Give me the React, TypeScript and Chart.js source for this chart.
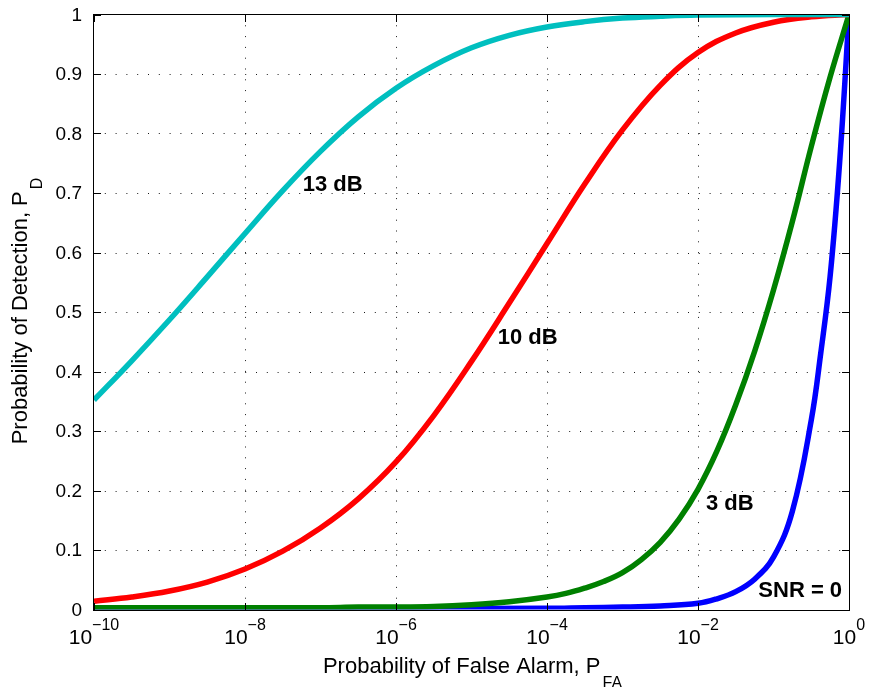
import React, { useEffect, useRef } from "react";
import { Chart, registerables } from "chart.js";

Chart.register(...registerables);

// ---- Data (x given as log10 of P_FA) ----
const snr13LogPfa = [-10, -9.5, -9, -8.5, -8, -7.5, -7, -6.5, -6, -5.5, -5, -4.5, -4, -3.5, -3, -2.5, -2, -1, 0];
const snr13Pd = [0.352, 0.418, 0.487, 0.559, 0.632, 0.704, 0.77, 0.828, 0.876, 0.914, 0.944, 0.965, 0.979, 0.988, 0.994, 0.997, 0.999, 1.0, 1.0];

const snr10LogPfa = [-10, -9.5, -9, -8.5, -8, -7.5, -7, -6.5, -6, -5.5, -5, -4.5, -4, -3.5, -3, -2.5, -2, -1.5, -1, -0.5, 0];
const snr10Pd = [0.014, 0.021, 0.031, 0.046, 0.068, 0.098, 0.137, 0.186, 0.248, 0.326, 0.417, 0.515, 0.615, 0.715, 0.806, 0.881, 0.936, 0.969, 0.987, 0.996, 1.0];

const snr3LogPfa = [-10, -9, -8, -7, -6.5, -6, -5.5, -5, -4.5, -4, -3.75, -3.5, -3.25, -3, -2.75, -2.5, -2.25, -2, -1.75, -1.5, -1.25, -1, -0.75, -0.5, -0.25, 0];
const snr3Pd = [0.003, 0.003, 0.003, 0.003, 0.004, 0.004, 0.005, 0.008, 0.013, 0.021, 0.027, 0.036, 0.047, 0.062, 0.084, 0.113, 0.152, 0.202, 0.266, 0.344, 0.434, 0.537, 0.652, 0.778, 0.895, 1.0];

const snr0LogPfa = [-10, -8, -6, -4, -3.5, -3, -2.5, -2, -1.75, -1.5, -1.25, -1, -0.75, -0.5, -0.375, -0.25, -0.125, 0];
const snr0Pd = [0.002, 0.002, 0.002, 0.002, 0.003, 0.004, 0.006, 0.0104, 0.018, 0.03, 0.051, 0.088, 0.165, 0.318, 0.43, 0.56, 0.75, 1.0];

const xTickExponents = [-10, -8, -6, -4, -2, 0];
const yTickValues = [0, 0.1, 0.2, 0.3, 0.4, 0.5, 0.6, 0.7, 0.8, 0.9, 1];
const yTickLabels = ["0", "0.1", "0.2", "0.3", "0.4", "0.5", "0.6", "0.7", "0.8", "0.9", "1"];

const curveLabels = ["13 dB", "10 dB", "3 dB", "SNR = 0"];
const curveLabelLogX = [-7.236, -4.653, -1.894, -1.201];
const curveLabelY = [0.704, 0.446, 0.168, 0.0215];

const xTitleMain = "Probability of False Alarm, P";
const xTitleSub = "FA";
const yTitleMain = "Probability of Detection, P";
const yTitleSub = "D";

const FONT = '"Liberation Sans", Arial, Helvetica, sans-serif';

const toPoints = (lx: number[], ys: number[]) => lx.map((e, i) => ({ x: Math.pow(10, e), y: ys[i] }));

const matlabAxes = {
  id: "matlabAxes",
  beforeDatasetsDraw(chart: any) {
    const { ctx, chartArea: a, scales } = chart;
    const x = scales.x;
    const y = scales.y;
    ctx.save();
    ctx.strokeStyle = "#1a1a1a";
    ctx.lineWidth = 1;
    ctx.setLineDash([1, 9.8]);
    xTickExponents.forEach((e) => {
      const px = Math.round(x.getPixelForValue(Math.pow(10, e))) + 0.5;
      if (px <= a.left + 2 || px >= a.right - 2) return;
      ctx.beginPath();
      ctx.moveTo(px, a.bottom);
      ctx.lineTo(px, a.top);
      ctx.stroke();
    });
    yTickValues.forEach((v) => {
      const py = Math.round(y.getPixelForValue(v)) + 0.5;
      if (py <= a.top + 2 || py >= a.bottom - 2) return;
      ctx.beginPath();
      ctx.moveTo(a.left, py);
      ctx.lineTo(a.right, py);
      ctx.stroke();
    });
    ctx.restore();
  },
  afterDatasetsDraw(chart: any) {
    const { ctx, chartArea: a, scales } = chart;
    const x = scales.x;
    const y = scales.y;
    ctx.save();
    ctx.setLineDash([]);
    ctx.strokeStyle = "#000";
    ctx.lineWidth = 1;
    const L = Math.round(a.left) - 0.5;
    const R = Math.round(a.right) + 0.5;
    const T = Math.round(a.top) - 0.5;
    const B = Math.round(a.bottom) + 0.5;
    ctx.strokeRect(L, T, R - L, B - T);
    const tl = 7.5;
    ctx.beginPath();
    xTickExponents.forEach((e) => {
      const px = Math.round(x.getPixelForValue(Math.pow(10, e))) + 0.5;
      ctx.moveTo(px, B);
      ctx.lineTo(px, B - tl);
      ctx.moveTo(px, T);
      ctx.lineTo(px, T + tl);
    });
    yTickValues.forEach((v) => {
      const py = Math.round(y.getPixelForValue(v)) + 0.5;
      ctx.moveTo(L, py);
      ctx.lineTo(L + tl, py);
      ctx.moveTo(R, py);
      ctx.lineTo(R - tl, py);
    });
    ctx.stroke();

    ctx.fillStyle = "#000";
    // y tick labels
    ctx.font = `19px ${FONT}`;
    ctx.textAlign = "right";
    ctx.textBaseline = "middle";
    yTickValues.forEach((v, i) => {
      ctx.fillText(yTickLabels[i], a.left - 12, y.getPixelForValue(v) + 1);
    });

    // x tick labels 10^e
    ctx.textAlign = "left";
    ctx.textBaseline = "alphabetic";
    xTickExponents.forEach((e) => {
      const px = x.getPixelForValue(Math.pow(10, e));
      const base = "10";
      const exp = e < 0 ? "\u2212" + String(-e) : String(e);
      ctx.font = `21px ${FONT}`;
      const wb = ctx.measureText(base).width;
      ctx.font = `16px ${FONT}`;
      const we = ctx.measureText(exp).width;
      const start = px - (wb + we) / 2;
      ctx.font = `21px ${FONT}`;
      ctx.fillText(base, start, a.bottom + 34.5);
      ctx.font = `16px ${FONT}`;
      ctx.fillText(exp, start + wb, a.bottom + 20.5);
    });

    // x title
    ctx.font = `22px ${FONT}`;
    const wxm = ctx.measureText(xTitleMain).width;
    ctx.font = `16px ${FONT}`;
    const wxs = ctx.measureText(xTitleSub).width;
    const cx = (a.left + a.right) / 2;
    const xs = cx - (wxm + wxs) / 2;
    ctx.font = `22px ${FONT}`;
    ctx.fillText(xTitleMain, xs, a.bottom + 63.5);
    ctx.font = `16px ${FONT}`;
    ctx.fillText(xTitleSub, xs + wxm + 2, a.bottom + 78.5);

    // y title (rotated)
    ctx.font = `22px ${FONT}`;
    const wym = ctx.measureText(yTitleMain).width;
    ctx.font = `16px ${FONT}`;
    const wys = ctx.measureText(yTitleSub).width;
    const cy = (a.top + a.bottom) / 2;
    ctx.save();
    ctx.translate(27, cy);
    ctx.rotate(-Math.PI / 2);
    const ys = -(wym + wys) / 2;
    ctx.font = `22px ${FONT}`;
    ctx.fillText(yTitleMain, ys, 0);
    ctx.font = `16px ${FONT}`;
    ctx.fillText(yTitleSub, ys + wym + 2, 15);
    ctx.restore();

    // curve labels
    ctx.font = `bold 22px ${FONT}`;
    ctx.textAlign = "left";
    ctx.textBaseline = "alphabetic";
    curveLabels.forEach((t, i) => {
      const px = x.getPixelForValue(Math.pow(10, curveLabelLogX[i]));
      const py = y.getPixelForValue(curveLabelY[i]);
      ctx.fillText(t, px, py);
    });
    ctx.restore();
  },
};

export default function App() {
  const ref = useRef<HTMLCanvasElement>(null);
  useEffect(() => {
    const lineOpts = {
      pointRadius: 0,
      borderWidth: 5.5,
      tension: 0.4,
      borderJoinStyle: "round" as const,
      fill: false,
      clip: 0,
    };
    const chart = new Chart(ref.current as HTMLCanvasElement, {
      type: "line",
      data: {
        datasets: [
          { label: "13 dB", data: toPoints(snr13LogPfa, snr13Pd), borderColor: "#00BFBF", ...lineOpts },
          { label: "10 dB", data: toPoints(snr10LogPfa, snr10Pd), borderColor: "#FF0000", ...lineOpts },
          { label: "3 dB", data: toPoints(snr3LogPfa, snr3Pd), borderColor: "#008000", ...lineOpts },
          { label: "SNR = 0", data: toPoints(snr0LogPfa, snr0Pd), borderColor: "#0000FF", ...lineOpts },
        ],
      },
      options: {
        animation: false,
        responsive: false,
        maintainAspectRatio: false,
        events: [],
        layout: { padding: { left: 94, right: 20, top: 14.5, bottom: 77.5 } },
        scales: {
          x: { type: "logarithmic", min: 1e-10, max: 1, display: false },
          y: { type: "linear", min: 0, max: 1, display: false },
        },
        plugins: { legend: { display: false }, tooltip: { enabled: false } },
      },
      plugins: [matlabAxes],
    } as any);
    return () => chart.destroy();
  }, []);
  return (
    <div style={{ position: "fixed", left: 0, top: 0, width: 869, height: 687, background: "#fff" }}>
      <canvas ref={ref} width={869} height={687} style={{ display: "block", width: 869, height: 687 }} />
    </div>
  );
}
